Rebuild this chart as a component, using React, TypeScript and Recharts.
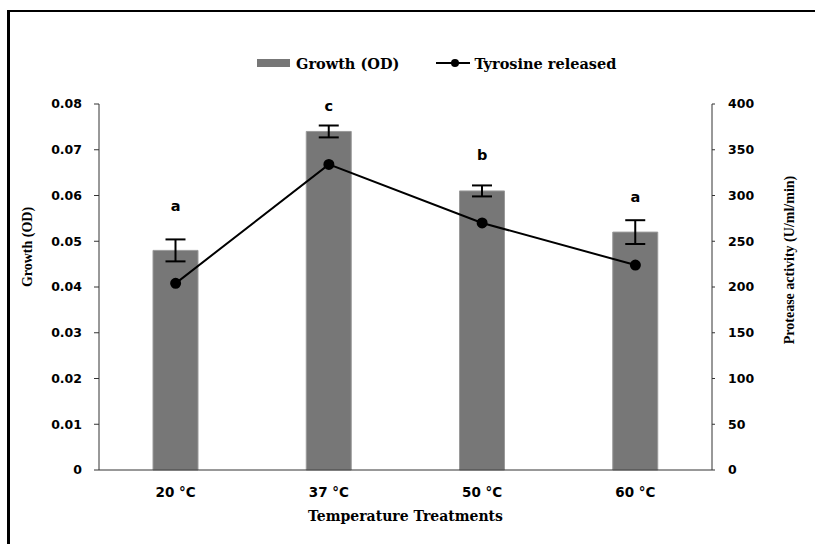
import React from 'react';
import { ComposedChart, Bar, Line, XAxis, YAxis, ErrorBar, Legend, Label } from 'recharts';

// values
const temps = ['20 °C', '37 °C', '50 °C', '60 °C'];
const growth = [0.048, 0.074, 0.061, 0.052];
const growthErr = [0.0024, 0.0013, 0.0012, 0.0026];
const tyrosine = [204, 334, 270, 224];
const letters = ['a', 'c', 'b', 'a'];
const letterPos = [0.0577, 0.0796, 0.0689, 0.0597];

const odTicks = [0, 0.01, 0.02, 0.03, 0.04, 0.05, 0.06, 0.07, 0.08];
const activityTicks = [0, 50, 100, 150, 200, 250, 300, 350, 400];
const frameTicks = [0, 1, 2, 3, 4];
const frameDomain: [number, number] = [0, 4];
const odDomain: [number, number] = [0, 0.08];
const actDomain: [number, number] = [0, 400];

const data = temps.map((t, i) => ({
  temp: t,
  growth: growth[i],
  err: growthErr[i],
  tyrosine: tyrosine[i],
  letterY: letterPos[i],
}));

const SANS = 'DejaVu Sans, Verdana, sans-serif';
const SERIF_WIDE = 'DejaVu Serif, serif';
const SERIF = 'Liberation Serif, Times New Roman, serif';
const AXIS = '#333';

const renderLetter = (props: any) => {
  const { x, y, index } = props;
  return (
    <text key={`l${index}`} x={x} y={y} textAnchor="middle" dominantBaseline="central"
      fontFamily={SANS} fontWeight="bold" fontSize={14.5} fill="#000">
      {letters[index]}
    </text>
  );
};

const TempTick = (props: any) => {
  const { x, y, payload } = props;
  return (
    <text x={x} y={y + 17} textAnchor="middle" dominantBaseline="central"
      fontFamily={SANS} fontWeight="bold" fontSize={13.5} fill="#000">
      {payload.value}
    </text>
  );
};

const LegendContent = (props: any) => {
  const items = (props.payload || []).filter((p: any) => p.type !== 'none');
  return (
    <div style={{ display: 'flex', alignItems: 'center', height: 20, paddingLeft: 257 }}>
      {items.map((it: any) => (
        <div key={it.value} style={{ display: 'flex', alignItems: 'center', marginRight: 36 }}>
          <svg width={36} height={12} style={{ marginRight: 3 }}>
            {it.type === 'rect' ? (
              <rect x={0} y={2} width={33} height={8} fill="#777" />
            ) : (
              <g>
                <line x1={1} y1={6} x2={35} y2={6} stroke="#000" strokeWidth={2} />
                <circle cx={20} cy={6} r={4} fill="#000" />
              </g>
            )}
          </svg>
          <span style={{ fontFamily: SERIF_WIDE, fontWeight: 'bold', fontSize: 14.5, color: '#000' }}>
            {it.value}
          </span>
        </div>
      ))}
    </div>
  );
};

const LeftTitle = (props: any) => {
  const { viewBox } = props;
  const cx = viewBox.x + 27;
  const cy = viewBox.y + viewBox.height / 2 - 40;
  return (
    <text x={cx} y={cy} transform={`rotate(-90 ${cx} ${cy})`} textAnchor="middle" dominantBaseline="central"
      fontFamily={SERIF} fontWeight="bold" fontSize={14} fill="#000">
      Growth (OD)
    </text>
  );
};

const RightTitle = (props: any) => {
  const { viewBox } = props;
  const cx = viewBox.x + 77;
  const cy = viewBox.y + viewBox.height / 2 - 27;
  return (
    <text x={cx} y={cy} transform={`rotate(-90 ${cx} ${cy})`} textAnchor="middle" dominantBaseline="central"
      fontFamily={SERIF} fontWeight="bold" fontSize={14} fill="#000">
      Protease activity (U/ml/min)
    </text>
  );
};

const BottomTitle = (props: any) => {
  const { viewBox } = props;
  return (
    <text x={viewBox.x + viewBox.width / 2} y={viewBox.y + 41} textAnchor="middle" dominantBaseline="central"
      fontFamily={SERIF_WIDE} fontWeight="bold" fontSize={14} fill="#000">
      Temperature Treatments
    </text>
  );
};

const odFormat = (v: number) => (v === 0 ? '0' : v.toFixed(2));
const odTickStyle = { fontFamily: SANS, fontWeight: 'bold', fontSize: 12.5, fill: '#000' };
const actTickStyle = { fontFamily: SANS, fontWeight: 'bold', fontSize: 12.5, fill: '#000', textAnchor: 'start' };
const axisLineStyle = { stroke: AXIS };

export default function App() {
  return (
    <div style={{ position: 'absolute', left: 0, top: 0, width: 815, height: 544, overflow: 'hidden', background: '#fff' }}>
      <div style={{
        position: 'absolute', left: 7, top: 10, width: 900, height: 600,
        borderLeft: '3px solid #000', borderTop: '2px solid #000',
      }} />
      <div style={{ position: 'absolute', left: 0, top: 0 }}>
        <ComposedChart width={815} height={544} data={data} margin={{ top: 84, right: 0, bottom: 0, left: 0 }}>
          <XAxis xAxisId="axisA" type="number" domain={frameDomain} ticks={frameTicks} tick={false}
            tickSize={5} height={5} stroke={AXIS} axisLine={axisLineStyle} tickLine={axisLineStyle} />
          <XAxis xAxisId="axisB" dataKey="temp" height={69} axisLine={false} tickLine={false}
            tickSize={0} tickMargin={0} tick={<TempTick />} interval={0}>
            <Label content={<BottomTitle />} />
          </XAxis>
          <YAxis yAxisId="od" domain={odDomain} ticks={odTicks} width={99}
            tickFormatter={odFormat} tick={odTickStyle}
            tickSize={5} tickMargin={12} stroke={AXIS} interval={0}>
            <Label content={<LeftTitle />} />
          </YAxis>
          <YAxis yAxisId="act" orientation="right" domain={actDomain} ticks={activityTicks} width={103}
            tick={actTickStyle} tickSize={3} tickMargin={13} stroke={AXIS} interval={0}>
            <Label content={<RightTitle />} />
          </YAxis>
          <Legend verticalAlign="top" content={<LegendContent />} wrapperStyle={{ top: 53, left: 0, width: 815 }} />
          <Bar xAxisId="axisB" yAxisId="od" dataKey="growth" name="Growth (OD)" fill="#777" stroke="#9a9a9a"
            barSize={45} isAnimationActive={false} legendType="rect">
            <ErrorBar dataKey="err" width={10} stroke="#000" strokeWidth={2} direction="y" />
          </Bar>
          <Line xAxisId="axisB" yAxisId="act" dataKey="tyrosine" name="Tyrosine released" stroke="#000"
            strokeWidth={2} dot={{ r: 4.5, fill: '#000', stroke: '#000' }} activeDot={false}
            isAnimationActive={false} legendType="line" />
          <Line xAxisId="axisB" yAxisId="od" dataKey="letterY" stroke="none" dot={false} activeDot={false}
            legendType="none" isAnimationActive={false} label={renderLetter} />
        </ComposedChart>
      </div>
    </div>
  );
}
